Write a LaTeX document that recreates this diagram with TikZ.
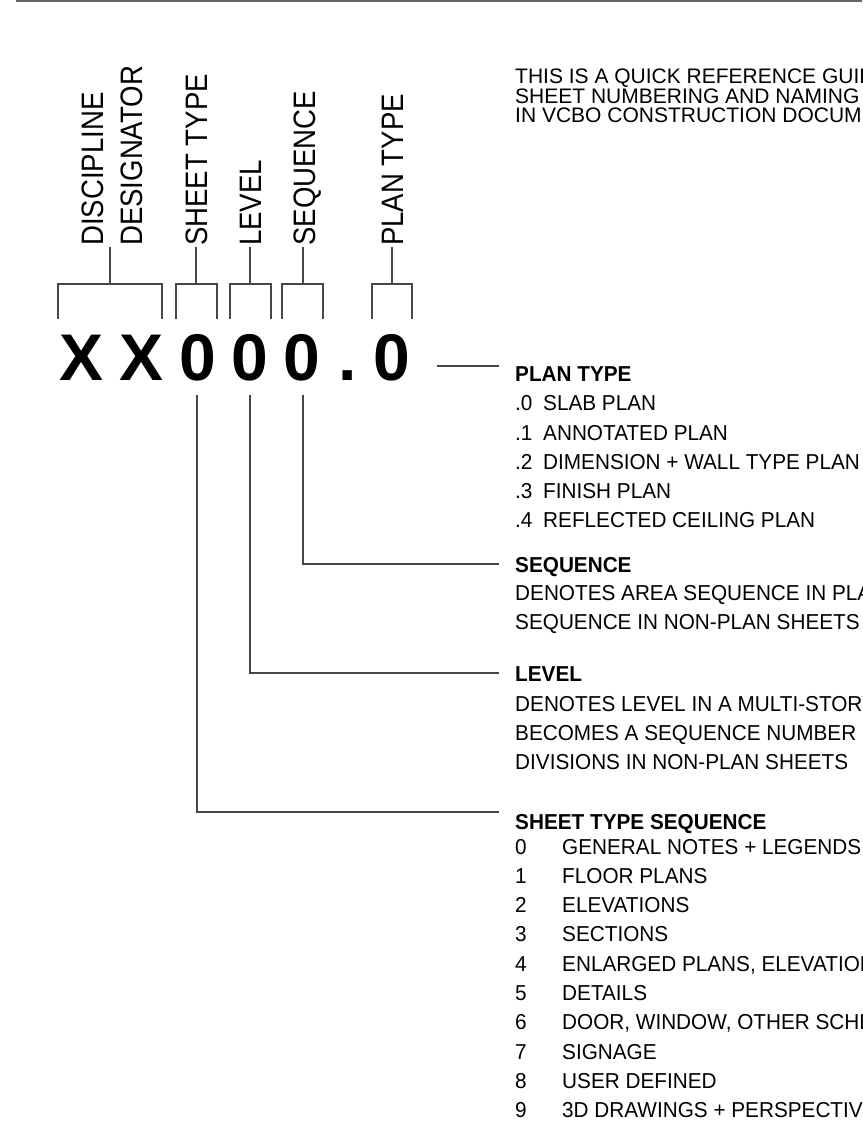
\documentclass[tikz,border=0pt]{standalone}
\usepackage{fontspec}
\setmainfont{Liberation Sans}
\newfontfamily\narrowfont[FakeStretch=0.89]{Liberation Sans}
\newfontfamily\bodyfont[FakeStretch=0.96]{Liberation Sans}
\begin{document}
\begin{tikzpicture}[x=1pt,y=-1pt,
  lead/.style={draw=black!72, line width=1.3pt},
  rule/.style={draw=black!60, line width=2pt},
  bigch/.style={font=\fontsize{66}{66}\selectfont\bfseries, anchor=base, inner sep=0pt},
  vlab/.style={font=\narrowfont\fontsize{31}{31}\selectfont, rotate=90, anchor=base west, inner sep=0pt},
  toptxt/.style={font=\fontsize{21}{21}\selectfont, anchor=base west, inner sep=0pt},
  txt/.style={font=\bodyfont\fontsize{21.6}{21.6}\selectfont, anchor=base west, inner sep=0pt},
  head/.style={font=\bodyfont\fontsize{21.6}{21.6}\selectfont\bfseries, anchor=base west, inner sep=0pt}]
\clip (0,0) rectangle (862,1142);
\fill[white] (0,0) rectangle (862,1142);
% top rule
\coordinate (r1) at (16,1);
\coordinate (r2) at (862,1);
\draw[rule] (r1) -- (r2);

% rotated labels
\node[vlab] (lDisc) at (103,246) {DISCIPLINE};
\node[vlab] (lDesig) at (142,246) {DESIGNATOR};
\node[vlab] (lSheet) at (207,246) {SHEET TYPE};
\node[vlab] (lLevel) at (261,246) {LEVEL};
\node[vlab] (lSeq) at (315,246) {SEQUENCE};
\node[vlab] (lPlan) at (403,246) {PLAN TYPE};

% stems tops
\coordinate (sDD) at (110,247);
\coordinate (sST) at (196,247);
\coordinate (sLV) at (250,247);
\coordinate (sSQ) at (303,247);
\coordinate (sPT) at (392,247);

% brackets
\draw[lead] (58,319) -- (58,284) -- (162,284) -- (162,319);
\draw[lead] (110,284) -- (sDD);
\draw[lead] (176,319) -- (176,284) -- (217,284) -- (217,319);
\draw[lead] (196,284) -- (sST);
\draw[lead] (230,319) -- (230,284) -- (271,284) -- (271,319);
\draw[lead] (250,284) -- (sLV);
\draw[lead] (282,319) -- (282,284) -- (323,284) -- (323,319);
\draw[lead] (303,284) -- (sSQ);
\draw[lead] (372,319) -- (372,284) -- (412,284) -- (412,319);
\draw[lead] (392,284) -- (sPT);

% big characters
\node[bigch] (c1) at (82,380) {X};
\node[bigch] (c2) at (142,380) {X};
\node[bigch] (c3) at (198,380) {0};
\node[bigch] (c4) at (250,380) {0};
\node[bigch] (c5) at (302,380) {0};
\node[bigch] (c6) at (347.5,380) {.};
\node[bigch] (c7) at (392,380) {0};

% right side text
\node[toptxt] (t1) at (515,84) {THIS IS A QUICK REFERENCE GUIDE};
\node[toptxt] (t2) at (515,103.5) {SHEET NUMBERING AND NAMING};
\node[toptxt] (t3) at (515,123) {IN VCBO CONSTRUCTION DOCUMENTS};

\node[head] (hPlan) at (515,381) {PLAN TYPE};
\node[txt] (p0n) at (515,410) {.0};
\node[txt] (p0) at (543,410) {SLAB PLAN};
\node[txt] (p1n) at (515,440) {.1};
\node[txt] (p1) at (543,440) {ANNOTATED PLAN};
\node[txt] (p2n) at (515,469) {.2};
\node[txt] (p2) at (543,469) {DIMENSION + WALL TYPE PLAN};
\node[txt] (p3n) at (515,498) {.3};
\node[txt] (p3) at (543,498) {FINISH PLAN};
\node[txt] (p4n) at (515,527) {.4};
\node[txt] (p4) at (543,527) {REFLECTED CEILING PLAN};

\node[head] (hSeq) at (515,572) {SEQUENCE};
\node[txt] (q1) at (515,600) {DENOTES AREA SEQUENCE IN PLAN};
\node[txt] (q2) at (515,629) {SEQUENCE IN NON-PLAN SHEETS};

\node[head] (hLev) at (515,681) {LEVEL};
\node[txt] (v1) at (515,711) {DENOTES LEVEL IN A MULTI-STORY};
\node[txt] (v2) at (515,740) {BECOMES A SEQUENCE NUMBER};
\node[txt] (v3) at (515,769) {DIVISIONS IN NON-PLAN SHEETS};

\node[head] (hSht) at (515,829) {SHEET TYPE SEQUENCE};
\foreach \n/\t [count=\i from 0] in {0/GENERAL NOTES + LEGENDS,1/FLOOR PLANS,2/ELEVATIONS,3/SECTIONS,4/{ENLARGED PLANS, ELEVATIONS},5/DETAILS,6/{DOOR, WINDOW, OTHER SCHEDULES},7/SIGNAGE,8/USER DEFINED,9/3D DRAWINGS + PERSPECTIVES}{
  \node[txt] (sn\i) at (515,{854+29.3*\i}) {\n};
  \node[txt] (st\i) at (562,{854+29.3*\i}) {\t};
}

% leaders
\coordinate (ePT) at (499,366);
\coordinate (bPT) at (437,366);
\draw[lead] (bPT) -- (ePT);
\coordinate (eSQ) at (499,564);
\draw[lead] (303,395) -- (303,564) -- (eSQ);
\coordinate (eLV) at (499,673);
\draw[lead] (250,395) -- (250,673) -- (eLV);
\coordinate (eST) at (499,812);
\draw[lead] (197,395) -- (197,812) -- (eST);
\end{tikzpicture}
\end{document}
